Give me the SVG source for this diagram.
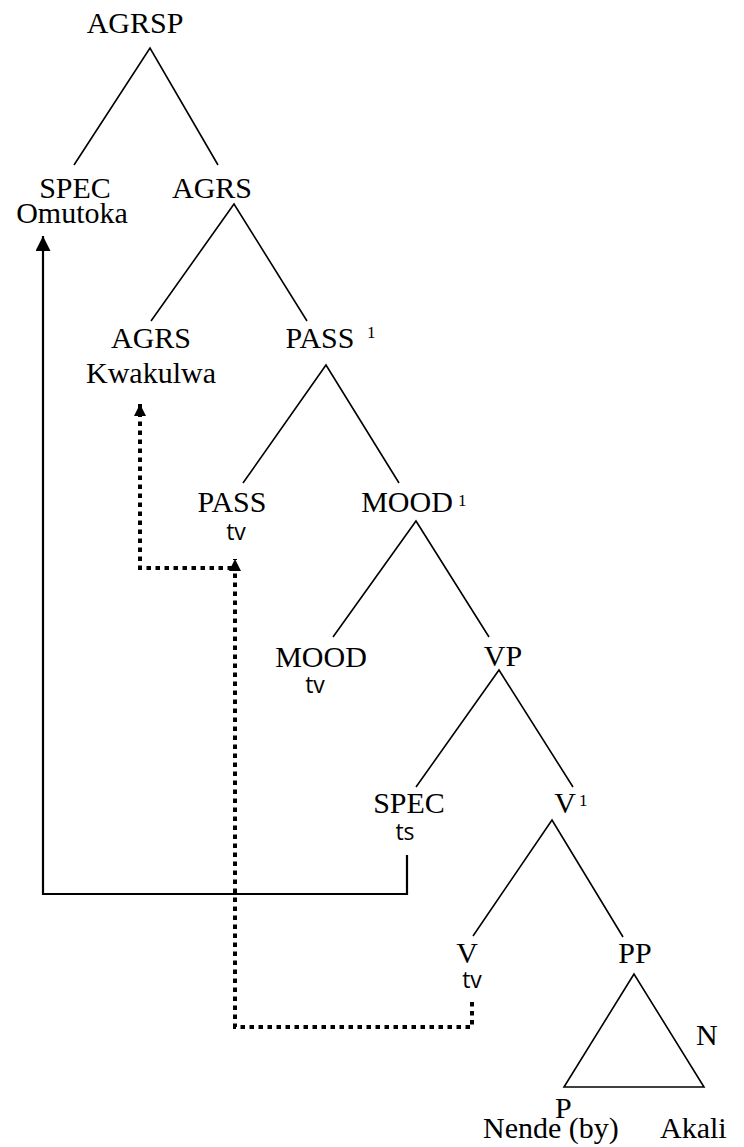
<svg xmlns="http://www.w3.org/2000/svg" width="744" height="1147" viewBox="0 0 744 1147">
<style>
.t{font-family:"Liberation Serif","Times New Roman",serif;font-size:30px;fill:#000}
.s{font-family:"Open Sans","Liberation Sans",sans-serif;font-size:23px;fill:#000}
.sup{font-family:"Liberation Serif","Times New Roman",serif;font-size:17px;fill:#000}
.e{stroke:#000;stroke-width:1.6;fill:none}
.mv{stroke:#000;stroke-width:2.2;fill:none}
.dot{stroke:#000;stroke-width:4;fill:none;stroke-dasharray:4.5 4.5}
</style>
<defs>
<marker id="ah" viewBox="0 0 10 10" refX="10" refY="5" markerWidth="16" markerHeight="15" markerUnits="userSpaceOnUse" orient="auto">
<path d="M0,0 L10,5 L0,10 z" fill="#000"/>
</marker>
<marker id="ahd" viewBox="0 0 10 10" refX="10" refY="5" markerWidth="16" markerHeight="12" markerUnits="userSpaceOnUse" orient="auto">
<path d="M0,0 L10,5 L0,10 z" fill="#000"/>
</marker>
</defs>
<rect width="744" height="1147" fill="#fff"/>
<g id="n-agrsp"><text class="t" x="135" y="33" text-anchor="middle">AGRSP</text></g>
<g id="n-spec1"><text class="t" x="75" y="198" text-anchor="middle">SPEC</text><text class="t" x="72" y="223" text-anchor="middle">Omutoka</text></g>
<g id="n-agrs1"><text class="t" x="212" y="198" text-anchor="middle">AGRS</text></g>
<g id="n-agrs2"><text class="t" x="151" y="348" text-anchor="middle">AGRS</text><text class="t" x="151" y="383" text-anchor="middle">Kwakulwa</text></g>
<g id="n-pass1"><text class="t" x="320" y="348" text-anchor="middle">PASS</text><text class="sup" x="367" y="338">1</text></g>
<g id="n-pass2"><text class="t" x="232" y="512" text-anchor="middle">PASS</text><text class="s" x="236" y="540" text-anchor="middle">tv</text></g>
<g id="n-mood1"><text class="t" x="407" y="512" text-anchor="middle">MOOD</text><text class="sup" x="458" y="506">1</text></g>
<g id="n-mood2"><text class="t" x="321" y="667" text-anchor="middle">MOOD</text><text class="s" x="315" y="693" text-anchor="middle">tv</text></g>
<g id="n-vp"><text class="t" x="503" y="666" text-anchor="middle">VP</text></g>
<g id="n-spec2"><text class="t" x="409" y="813" text-anchor="middle">SPEC</text><text class="s" x="405" y="840" text-anchor="middle">ts</text></g>
<g id="n-v1"><text class="t" x="565" y="813" text-anchor="middle">V</text><text class="sup" x="579" y="806">1</text></g>
<g id="n-v"><text class="t" x="467" y="963" text-anchor="middle">V</text><text class="s" x="472" y="988" text-anchor="middle">tv</text></g>
<g id="n-pp"><text class="t" x="635" y="963" text-anchor="middle">PP</text>
<path class="e" d="M634,974 L564,1087 L704,1087 Z"/>
<text class="t" x="696" y="1045">N</text>
<text class="t" x="555" y="1118">P</text>
<text class="t" x="483" y="1138">Nende (by)</text>
<text class="t" x="660" y="1138">Akali</text>
</g>
<g id="connectors">
<path class="e" d="M74,165 L150,48 L218,165"/>
<path class="e" d="M151,321 L234,204 L307,321"/>
<path class="e" d="M243,483 L326,365 L399,483"/>
<path class="e" d="M333,637 L416,521 L489,637"/>
<path class="e" d="M416,787 L499,670 L573,787"/>
<path class="e" d="M473,936 L552,820 L623,937"/>
<path class="mv" d="M407,855 L407,894 L43,894 L43,236" marker-end="url(#ah)"/>
<path class="dot" d="M472,1002 L472,1027 L235,1027 L235,559" marker-end="url(#ahd)"/>
<path class="dot" d="M232,568 L140,568 L140,404" marker-end="url(#ahd)"/>
</g>
</svg>
